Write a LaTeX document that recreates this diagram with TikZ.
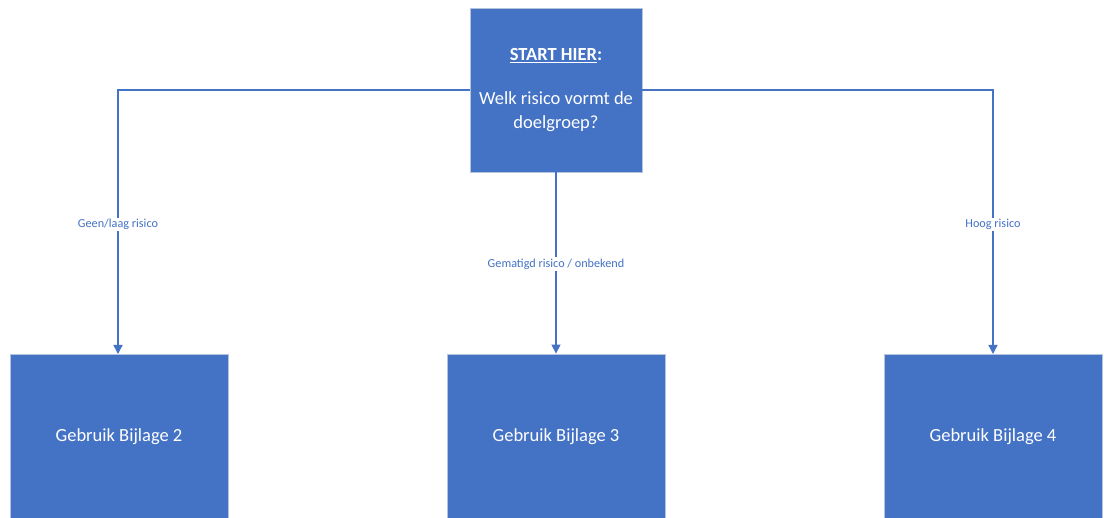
\documentclass[tikz,border=0pt]{standalone}
\usepackage{fontspec}
\setmainfont{Carlito}
\usetikzlibrary{arrows.meta}
\definecolor{boxblue}{HTML}{4472C4}
\definecolor{boxedge}{HTML}{B4C3DE}
\begin{document}
\begin{tikzpicture}[x=1pt,y=-1pt,
  box/.style={draw=boxedge,line width=0.8pt,fill=boxblue,text=white,minimum width=172pt,minimum height=164pt,inner sep=0pt,align=center,font=\fontsize{18.5}{24}\selectfont},
  bbox/.style={box,minimum width=218pt,minimum height=165pt},
  conn/.style={draw=boxblue,line width=1.3pt,-{Triangle[width=9pt,length=9pt]}},
  lbl/.style={fill=white,text=boxblue,font=\fontsize{12.2}{14}\selectfont,inner sep=1.5pt}]
\useasboundingbox (0,0) rectangle (1104,518);
\begin{scope}
\clip (0,0) rectangle (1104,518);
\node[box] (start) at (556,90) {\underline{\textbf{START HIER}}\textbf{:}\\[20pt]Welk risico vormt de\\doelgroep?};
\node[bbox] (b2) at (119,436.5) {Gebruik Bijlage 2};
\node[bbox] (b3) at (556,436.5) {Gebruik Bijlage 3};
\node[bbox] (b4) at (993,436.5) {Gebruik Bijlage 4};
\end{scope}
\coordinate (lc) at (118,90);
\coordinate (rc) at (993,90);
\draw[conn] (start.west) -- (lc) -- (118,354) node[lbl,pos=0.51] {Geen/laag risico};
\draw[conn] (start.east) -- (rc) -- (993,354) node[lbl,pos=0.51] {Hoog risico};
\draw[conn] (start.south) -- (b3.north) node[lbl,pos=0.505] {Gematigd risico / onbekend};
\end{tikzpicture}
\end{document}
